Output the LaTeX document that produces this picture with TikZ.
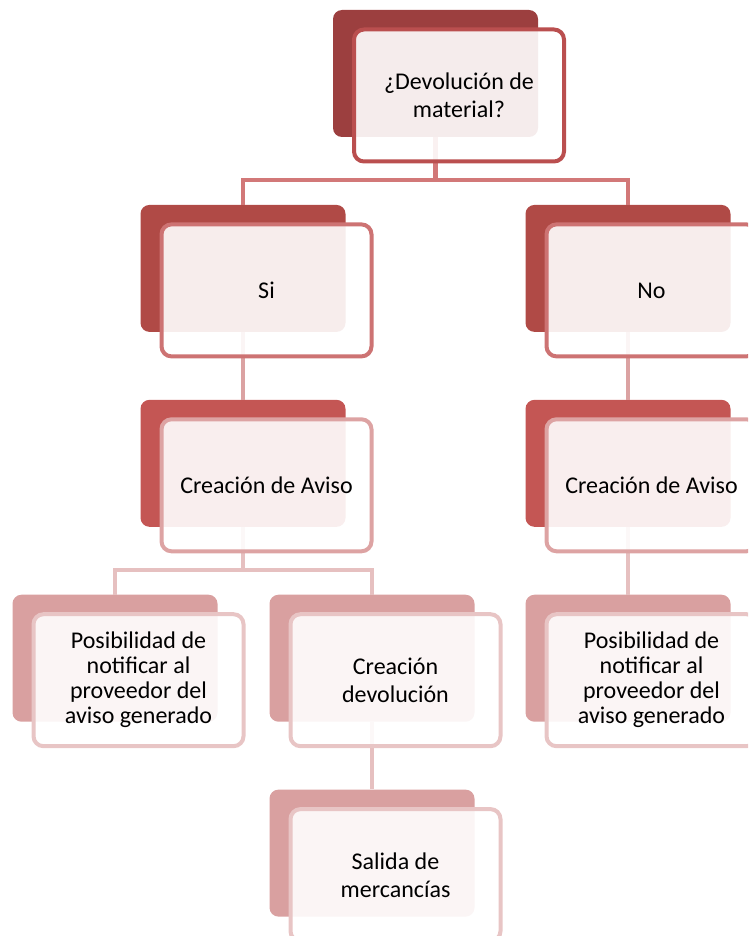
\documentclass[tikz,border=0pt]{standalone}
\usepackage{fontspec}
\setmainfont{Carlito}
\usetikzlibrary{positioning}

\definecolor{backA}{HTML}{9C3F3F}
\definecolor{backB}{HTML}{B04A46}
\definecolor{backC}{HTML}{C45654}
\definecolor{backD}{HTML}{D9A0A0}
\definecolor{frameA}{HTML}{BA4F4F}
\definecolor{frameB}{HTML}{CD7373}
\definecolor{frameC}{HTML}{DDA3A3}
\definecolor{frameD}{HTML}{E8C5C5}
\definecolor{linkA}{HTML}{D27878}
\definecolor{linkB}{HTML}{DBA2A2}
\definecolor{linkC}{HTML}{E6C0C0}

\begin{document}
\begin{tikzpicture}[x=1pt, y=1pt,
        node distance=67.5pt,
        back/.style={rectangle, rounded corners=9pt, minimum width=205pt, minimum height=127pt, inner sep=0pt},
        front/.style={draw, line width=4pt, rounded corners=10pt, fill=white, fill opacity=0.9, text opacity=1, minimum width=210pt, minimum height=132pt, inner sep=0pt, align=center, font=\fontsize{24}{28}\selectfont, xshift=23.5pt, yshift=-22pt},
        tight/.style={font=\fontsize{24}{25}\selectfont},
        link/.style={line width=4.5pt}
    ]
        \useasboundingbox (0,0) rectangle (748,-936);
        \clip (0,0) rectangle (748,-936);

        % back shapes
        \node (q) [back, fill=backA] at (435.5,-73.5) {};
        \node (si) [back, fill=backB, below=of q, xshift=-192.5pt] {};
        \node (no) [back, fill=backB, below=of q, xshift=192.5pt] {};
        \node (avisoL) [back, fill=backC, below=of si] {};
        \node (avisoR) [back, fill=backC, below=of no] {};
        \node (notifL) [back, fill=backD, below=of avisoL, xshift=-128pt] {};
        \node (devol) [back, fill=backD, below=of avisoL, xshift=129pt] {};
        \node (notifR) [back, fill=backD, below=of avisoR] {};
        \node (salida) [back, fill=backD, below=of devol] {};

        % connectors
        \draw [link, draw=linkA] (q.south) -- ++(0,-43) -| (si.north);
        \draw [link, draw=linkA] (q.south) -- ++(0,-43) -| (no.north);
        \draw [link, draw=linkB] (si.south) -- (avisoL.north);
        \draw [link, draw=linkB] (no.south) -- (avisoR.north);
        \draw [link, draw=linkC] (avisoL.south) -- ++(0,-43) -| (notifL.north);
        \draw [link, draw=linkC] (avisoL.south) -- ++(0,-43) -| (devol.north);
        \draw [link, draw=linkC] (avisoR.south) -- (notifR.north);
        \draw [link, draw=linkC] (devol.south) -- (salida.north);

        % front frames with text
        \node (qF) [front, draw=frameA] at (q) {¿Devolución de\\material?};
        \node (siF) [front, draw=frameB] at (si) {Si};
        \node (noF) [front, draw=frameB] at (no) {No};
        \node (avisoLF) [front, draw=frameC] at (avisoL) {Creación de Aviso};
        \node (avisoRF) [front, draw=frameC] at (avisoR) {Creación de Aviso};
        \node (notifLF) [front, tight, draw=frameD] at (notifL) {Posibilidad de\\notificar al\\proveedor del\\aviso generado};
        \node (devolF) [front, draw=frameD] at (devol) {Creación\\devolución};
        \node (notifRF) [front, tight, draw=frameD] at (notifR) {Posibilidad de\\notificar al\\proveedor del\\aviso generado};
        \node (salidaF) [front, draw=frameD] at (salida) {Salida de\\mercancías};
    \end{tikzpicture}
\end{document}
